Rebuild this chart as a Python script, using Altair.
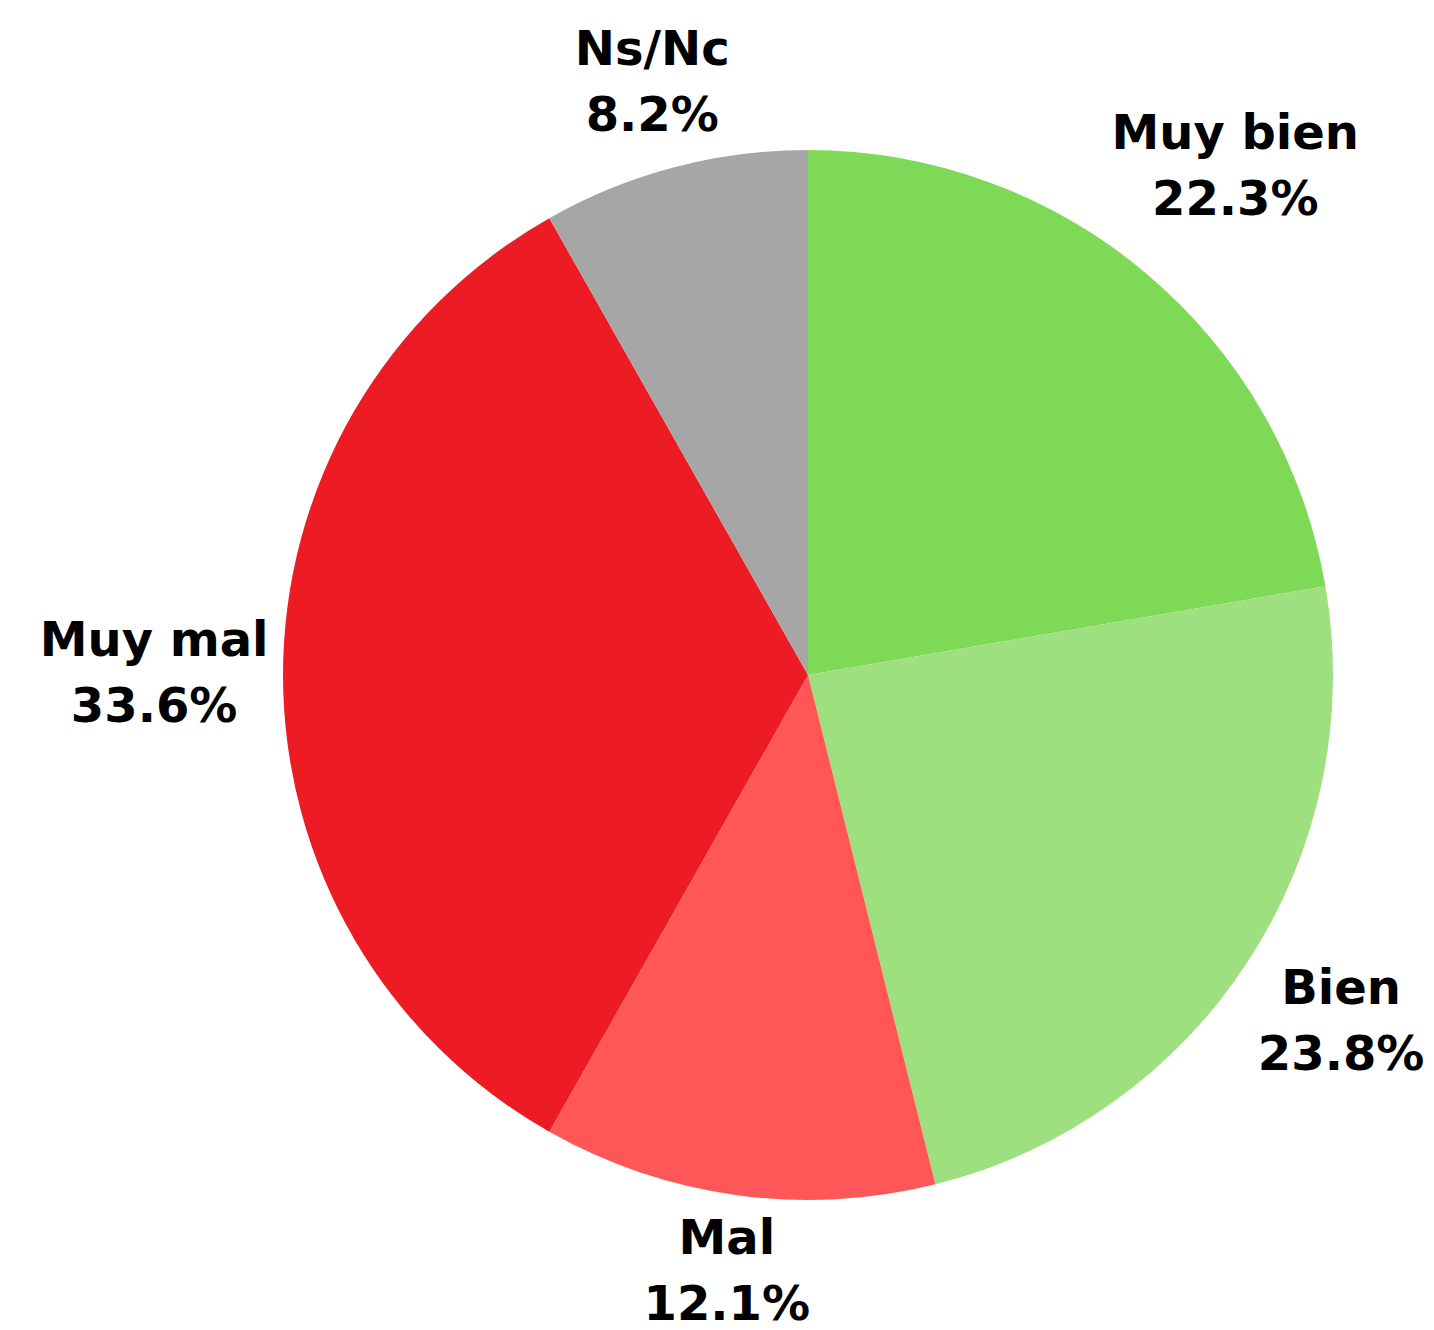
import altair as alt
import pandas as pd
import numpy as np

categories = ["Muy bien", "Bien", "Mal", "Muy mal", "Ns/Nc"]
values = [22.3, 23.8, 12.1, 33.6, 8.2]
pct_labels = ["22.3%", "23.8%", "12.1%", "33.6%", "8.2%"]
colors = ["#7ED957", "#9EE080", "#FF5757", "#ED1C24", "#A6A6A6"]

R = 525
FS = 48
LH = 66
CX, CY = 800, 667

df = pd.DataFrame({
    "cat": categories,
    "value": values,
    "order": list(range(len(categories))),
})
df["label"] = [c + "\n" + p for c, p in zip(categories, pct_labels)]

# label angle (middle of each slice) and radius so the text block sits just outside the pie
tot = sum(values)
cum = np.cumsum([0] + values[:-1])
mid = (cum + np.array(values) / 2) / tot * 2 * np.pi
hw = np.array([max(len(c), len(p)) * 0.33 * FS for c, p in zip(categories, pct_labels)])
hh = LH / 2 + FS * 0.35
df["mid"] = mid
df["lr"] = R + 18 + np.abs(np.sin(mid)) * hw + np.abs(np.cos(mid)) * hh

pie = alt.Chart(df).mark_arc(radius=R, stroke=None).encode(
    theta=alt.Theta("value:Q", stack=True),
    order=alt.Order("order:Q"),
    x=alt.value(CX),
    y=alt.value(CY),
    color=alt.Color("cat:N", scale=alt.Scale(domain=categories, range=colors), legend=None),
)

text = alt.Chart(df).mark_text(
    font="DejaVu Sans", fontWeight="bold", fontSize=FS, lineHeight=LH,
    lineBreak="\n", align="center", baseline="middle", color="#000000",
    dy=-LH / 2,
).encode(
    theta=alt.Theta("mid:Q", scale=None),
    radius=alt.Radius("lr:Q", scale=None),
    x=alt.value(CX),
    y=alt.value(CY),
    text="label:N",
)

chart = alt.layer(pie, text).properties(
    width=1418, height=1314, padding=0, autosize="none"
).configure_view(stroke=None)

chart.save("out.html", embed_options={"renderer": "svg", "actions": False})
